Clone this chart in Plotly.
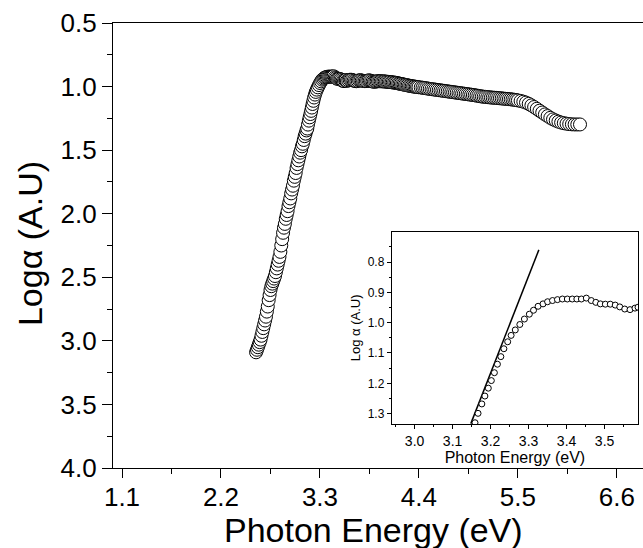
import plotly.graph_objects as go

# ---------------- data ----------------
# absorption edge (rising part) of the main curve
edge_E = [2.59, 2.60, 2.61, 2.62, 2.63, 2.64, 2.65, 2.66, 2.67, 2.68,
          2.69, 2.70, 2.71, 2.72, 2.73, 2.74, 2.75, 2.76, 2.77, 2.78,
          2.79, 2.80, 2.81, 2.82, 2.83, 2.84, 2.85, 2.86, 2.87, 2.88,
          2.89, 2.90, 2.91, 2.92, 2.93, 2.94, 2.95, 2.96, 2.97, 2.98,
          2.99, 3.00, 3.01, 3.02, 3.03, 3.04, 3.05, 3.06, 3.07, 3.08,
          3.09, 3.10, 3.11, 3.12, 3.13, 3.14, 3.15]
edge_L = [3.09, 3.07, 3.05, 3.03, 3.01, 2.99, 2.96, 2.93, 2.90, 2.87,
          2.84, 2.81, 2.77, 2.73, 2.68, 2.64, 2.60, 2.57, 2.55, 2.53,
          2.51, 2.49, 2.46, 2.43, 2.40, 2.37, 2.34, 2.30, 2.25, 2.20,
          2.15, 2.11, 2.08, 2.04, 2.01, 1.98, 1.94, 1.91, 1.88, 1.84,
          1.81, 1.78, 1.74, 1.71, 1.68, 1.64, 1.61, 1.58, 1.55, 1.52,
          1.50, 1.47, 1.45, 1.42, 1.39, 1.37, 1.345]

# region shown in the inset (3.15 - 3.59 eV)
zoom_E = [3.159, 3.167, 3.177, 3.185, 3.194, 3.202, 3.210, 3.218, 3.227, 3.235,
          3.245, 3.254, 3.265, 3.277, 3.289, 3.302, 3.313, 3.325, 3.338, 3.350,
          3.363, 3.376, 3.389, 3.402, 3.415, 3.427, 3.439, 3.452, 3.465, 3.477,
          3.489, 3.502, 3.515, 3.528, 3.540, 3.553, 3.567, 3.580, 3.588]
zoom_L = [1.330, 1.299, 1.268, 1.242, 1.216, 1.191, 1.165, 1.137, 1.112, 1.086,
          1.063, 1.042, 1.024, 1.006, 0.988, 0.972, 0.959, 0.946, 0.938, 0.931,
          0.927, 0.924, 0.922, 0.922, 0.922, 0.922, 0.922, 0.919, 0.927, 0.933,
          0.938, 0.939, 0.939, 0.942, 0.948, 0.955, 0.957, 0.952, 0.949]

# plateau beyond the inset window
high_E = [3.600, 3.615, 3.630, 3.645, 3.660, 3.675, 3.690, 3.705, 3.720, 3.735,
          3.750, 3.765, 3.780, 3.795, 3.810, 3.825, 3.840, 3.855, 3.870, 3.885,
          3.900, 3.915, 3.930, 3.945, 3.960, 3.975, 3.990, 4.005, 4.020, 4.035,
          4.050, 4.065, 4.080, 4.095, 4.110, 4.125, 4.140, 4.155, 4.170, 4.185,
          4.200, 4.215, 4.230, 4.245, 4.260, 4.275, 4.290, 4.305, 4.320, 4.335,
          4.350, 4.365, 4.380, 4.395,
          4.42, 4.44, 4.46, 4.48, 4.50, 4.52, 4.54, 4.56, 4.58, 4.60,
          4.62, 4.64, 4.66, 4.68, 4.70, 4.72, 4.74, 4.76, 4.78, 4.80,
          4.82, 4.84, 4.86, 4.88, 4.90, 4.92, 4.94, 4.96, 4.98, 5.00,
          5.02, 5.04, 5.06, 5.08, 5.10, 5.12, 5.14, 5.16, 5.18, 5.20,
          5.22, 5.24, 5.26, 5.28, 5.30, 5.32, 5.34, 5.36, 5.38, 5.40,
          5.42, 5.44, 5.46, 5.48, 5.50,
          5.53, 5.56, 5.59, 5.62, 5.65, 5.68, 5.71, 5.74, 5.77, 5.80,
          5.83, 5.86, 5.89, 5.92, 5.95, 5.98, 6.01, 6.04, 6.07, 6.10,
          6.13, 6.16, 6.19]
high_L = [0.955, 0.951, 0.947, 0.946, 0.948, 0.953, 0.957, 0.958, 0.955, 0.951,
          0.950, 0.953, 0.955, 0.957, 0.957, 0.955, 0.951, 0.952, 0.956, 0.960,
          0.962, 0.961, 0.959, 0.958, 0.958, 0.958, 0.959, 0.959, 0.960, 0.961,
          0.963, 0.963, 0.964, 0.966, 0.967, 0.969, 0.970, 0.972, 0.975, 0.977,
          0.979, 0.981, 0.984, 0.986, 0.988, 0.990, 0.993, 0.995, 0.997, 0.999,
          1.000, 1.002, 1.003, 1.005,
          1.007, 1.009, 1.011, 1.013, 1.016, 1.018, 1.020, 1.022, 1.024, 1.026,
          1.028, 1.030, 1.032, 1.034, 1.036, 1.038, 1.040, 1.042, 1.044, 1.046,
          1.048, 1.050, 1.052, 1.054, 1.056, 1.058, 1.060, 1.062, 1.064, 1.066,
          1.068, 1.071, 1.073, 1.076, 1.078, 1.080, 1.081, 1.083, 1.084, 1.086,
          1.087, 1.088, 1.089, 1.091, 1.092, 1.093, 1.095, 1.096, 1.097, 1.099,
          1.100, 1.102, 1.104, 1.106, 1.109,
          1.113, 1.119, 1.126, 1.136, 1.148, 1.161, 1.175, 1.190, 1.204, 1.219,
          1.232, 1.246, 1.258, 1.267, 1.276, 1.283, 1.288, 1.292, 1.295, 1.297,
          1.298, 1.298, 1.298]

# linear fit of the edge drawn in the inset
fit_E = [3.148, 3.327]
fit_L = [1.333, 0.760]

main_xticks = [1.1, 2.2, 3.3, 4.4, 5.5, 6.6]
main_xminor = [1.65, 2.75, 3.85, 4.95, 6.05]
main_yticks = [0.5, 1.0, 1.5, 2.0, 2.5, 3.0, 3.5, 4.0]
main_yminor = [0.75, 1.25, 1.75, 2.25, 2.75, 3.25, 3.75]
ins_xticks = [3.0, 3.1, 3.2, 3.3, 3.4, 3.5]
ins_xminor = [2.95, 3.05, 3.15, 3.25, 3.35, 3.45, 3.55]
ins_yticks = [0.8, 0.9, 1.0, 1.1, 1.2, 1.3]
ins_yminor = [0.75, 0.85, 0.95, 1.05, 1.15, 1.25]

all_E = edge_E + zoom_E + high_E
all_L = edge_L + zoom_L + high_L

FONT = "Liberation Sans, Arial, sans-serif"

fig = go.Figure()
fig.add_trace(go.Scatter(
    x=all_E, y=all_L, mode="markers",
    marker=dict(symbol="circle", size=13, color="white",
                line=dict(color="black", width=1)),
    xaxis="x", yaxis="y", showlegend=False))

fig.add_trace(go.Scatter(
    x=fit_E, y=fit_L, mode="lines", line=dict(color="black", width=1.5),
    xaxis="x2", yaxis="y2", showlegend=False))
fig.add_trace(go.Scatter(
    x=zoom_E, y=zoom_L, mode="markers",
    marker=dict(symbol="circle", size=6, color="white",
                line=dict(color="black", width=1)),
    xaxis="x2", yaxis="y2", showlegend=False))

axcommon = dict(showgrid=False, zeroline=False, linecolor="black",
                tickcolor="black", ticks="outside", color="black")

fig.update_layout(
    width=643, height=548,
    margin=dict(l=113, r=0, t=23, b=80),
    paper_bgcolor="white", plot_bgcolor="white",
    font=dict(family=FONT, color="black"),
    xaxis=dict(**axcommon, range=[1.0, 6.89], tickvals=main_xticks,
               ticktext=[f"{v:.1f}" for v in main_xticks],
               ticklen=9, tickwidth=1.3, linewidth=1.3, mirror=True,
               tickfont=dict(size=26), ticklabelstandoff=-3,
               minor=dict(tickvals=main_xminor, ticklen=5, tickwidth=1.3,
                          ticks="outside", tickcolor="black", showgrid=False),
               domain=[0, 1], anchor="y"),
    yaxis=dict(**axcommon, range=[4.0, 0.5], tickvals=main_yticks,
               ticktext=[f"{v:.1f}" for v in main_yticks],
               ticklen=10, tickwidth=1.3, linewidth=1.3,
               tickfont=dict(size=26),
               minor=dict(tickvals=main_yminor, ticklen=5, tickwidth=1.3,
                          ticks="outside", tickcolor="black", showgrid=False),
               domain=[0, 1], anchor="x"),
    xaxis2=dict(**axcommon, range=[2.940, 3.588], tickvals=ins_xticks,
                ticktext=[f"{v:.1f}" for v in ins_xticks],
                ticklen=4, tickwidth=1, linewidth=1, mirror=True,
                tickfont=dict(size=14),
                minor=dict(tickvals=ins_xminor, ticklen=2, tickwidth=1,
                           ticks="outside", tickcolor="black", showgrid=False),
                title=dict(text="Photon Energy (eV)", font=dict(size=16), standoff=0),
                domain=[0.526, 0.9906], anchor="y2"),
    yaxis2=dict(**axcommon, range=[1.334, 0.700], tickvals=ins_yticks,
                ticktext=[f"{v:.1f}" for v in ins_yticks],
                ticklen=4, tickwidth=1, linewidth=1, mirror=True,
                tickfont=dict(size=12),
                minor=dict(tickvals=ins_yminor, ticklen=2, tickwidth=1,
                           ticks="outside", tickcolor="black", showgrid=False),
                title=dict(text="Log α (A.U)", font=dict(size=13), standoff=4),
                domain=[0.099, 0.531], anchor="x2"),
    annotations=[
        dict(text="Photon Energy (eV)", xref="paper", yref="paper",
             x=0.492, y=-0.139, xanchor="center", yanchor="middle",
             showarrow=False, font=dict(size=34)),
        dict(text="Logα (A.U)", xref="paper", yref="paper",
             x=-0.157, y=0.505, xanchor="center", yanchor="middle",
             textangle=-90, showarrow=False, font=dict(size=34)),
    ],
)

fig.write_html("out.html")
